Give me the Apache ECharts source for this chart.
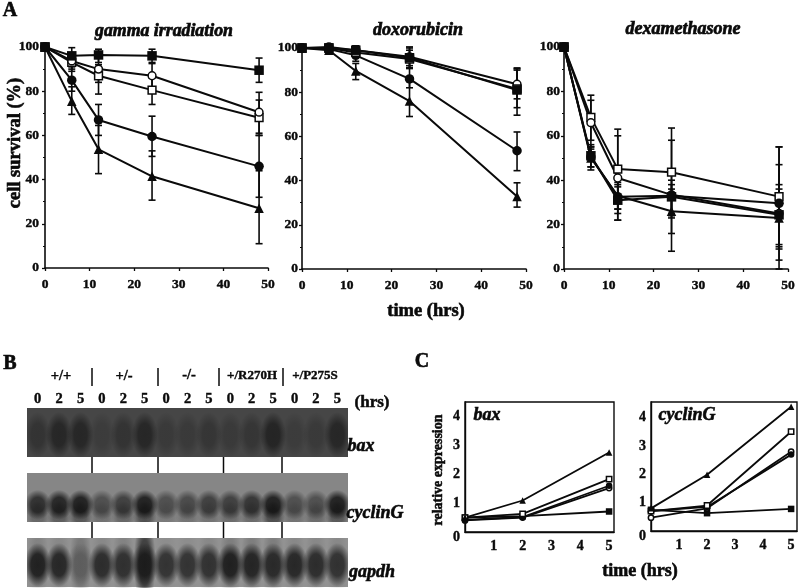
<!DOCTYPE html>
<html><head><meta charset="utf-8">
<script src="https://cdn.jsdelivr.net/npm/echarts@6/dist/echarts.min.js"></script>
<style>html,body{margin:0;padding:0;background:#fff}#c{width:800px;height:588px;filter:blur(0.35px)}</style>
</head><body><div id="c"></div>
<script>
// ---------- Panel A data (hours, % survival, error-bar highs and lows)
const hoursA = [0, 6, 12, 24, 48];
const gammaFilledSquare = [100, 96, 96.4, 96, 89.5];
const gammaFilledSquareHi = [100, 99.7, 99, 99, 95];
const gammaFilledSquareLo = [100, 92, 93, 92.5, 84];
const gammaOpenCircle = [100, 93.7, 90, 87, 70.5];
const gammaOpenCircleHi = [100, 97, 95, 93, 79.5];
const gammaOpenCircleLo = [100, 90, 84, 81, 61];
const gammaOpenSquare = [100, 93, 87, 80.5, 68];
const gammaOpenSquareHi = [100, 96, 92, 86, 76];
const gammaOpenSquareLo = [100, 89, 78.7, 74, 60];
const gammaFilledCircle = [100, 85, 67, 59.5, 46];
const gammaFilledCircleHi = [100, 91, 74, 68.7, 60];
const gammaFilledCircleLo = [100, 80, 60, 50.5, 32];
const gammaTriangle = [100, 75.5, 53.7, 41.5, 27];
const gammaTriangleHi = [100, 82, 64.5, 53, 44];
const gammaTriangleLo = [100, 69.5, 42.7, 30.7, 11];

const doxoFilledSquare = [100, 100, 99, 95.6, 81];
const doxoFilledSquareHi = [100, 101, 101, 100, 91];
const doxoFilledSquareLo = [100, 99, 97, 90.7, 69.6];
const doxoOpenCircle = [100, 100.5, 99, 96, 83.6];
const doxoOpenCircleHi = [100, 101, 101, 100.5, 90.6];
const doxoOpenCircleLo = [100, 99, 96, 91, 77];
const doxoOpenSquare = [100, 100, 98, 95, 81.5];
const doxoOpenSquareHi = [100, 101, 100, 99, 90];
const doxoOpenSquareLo = [100, 99, 96, 91, 73];
const doxoFilledCircle = [100, 99.5, 96.7, 86, 53.5];
const doxoFilledCircleHi = [100, 100.5, 98, 92, 62];
const doxoFilledCircleLo = [100, 98.5, 94, 82, 44.5];
const doxoTriangle = [100, 99, 89.6, 76, 32.8];
const doxoTriangleHi = [100, 100, 93, 85, 39];
const doxoTriangleLo = [100, 98, 85.7, 69, 28];

const dexaOpenSquare = [100, 68.3, 45, 43.6, 32.6];
const dexaOpenSquareHi = [100, 78.3, 63, 63.5, 55];
const dexaOpenSquareLo = [100, 58, 27, 23, 10];
const dexaOpenCircle = [100, 65.9, 41, 33.4, 25];
const dexaOpenCircleHi = [100, 76, 60, 58, 47];
const dexaOpenCircleLo = [100, 55, 22, 8, 9];
const dexaFilledCircle = [100, 50.5, 32.6, 33, 29.6];
const dexaFilledCircleHi = [100, 56, 38, 40, 55];
const dexaFilledCircleLo = [100, 46, 27, 25, 4];
const dexaFilledSquare = [100, 51, 31, 32.5, 24.4];
const dexaFilledSquareHi = [100, 55, 37, 38, 38];
const dexaFilledSquareLo = [100, 44.6, 25, 24, 11];
const dexaTriangle = [100, 50, 33, 26, 23];
const dexaTriangleHi = [100, 54, 39, 36, 36];
const dexaTriangleLo = [100, 46, 22, 16, 0];

// ---------- Panel C data
const hoursC = [0, 2, 5];
const baxTriangle = [0.5, 1.09, 2.75];
const baxOpenSquare = [0.5, 0.63, 1.83];
const baxOpenCircle = [0.4, 0.5, 1.52];
const baxFilledCircle = [0.42, 0.52, 1.6];
const baxFilledSquare = [0.5, 0.55, 0.71];
const cycTriangle = [0.8, 1.99, 4.39];
const cycOpenSquare = [0.7, 0.9, 3.51];
const cycOpenCircle = [0.47, 0.8, 2.8];
const cycFilledCircle = [0.7, 0.85, 2.7];
const cycFilledSquare = [0.75, 0.63, 0.78];

// ---------- Panel B data (band darkness per lane, read by eye)
const laneLabels = ['0','2','5','0','2','5','0','2','5','0','2','5','0','2','5'];
const baxBands = [0.45,0.75,0.75,0.25,0.45,0.75,0.3,0.3,0.4,0.3,0.4,0.8,0.25,0.3,0.75];
const cyclinBands = [0.85,0.95,1,0.55,0.7,1,0.55,0.6,0.7,0.7,0.8,1,0.55,0.55,1];
const cyclinSmear = [0.3,0.4,0.45,0.2,0.3,0.5,0.12,0.18,0.18,0.25,0.25,0.55,0.18,0.25,0.45];
const gapdhBands = [1,0.95,0.3,0.9,0.85,0.8,0.85,0.85,0.85,1,0.95,0.9,0.95,0.9,0.85];
const gapdhSmear = [0.15,0.1,0.25,0.1,0.15,0.8,0.05,0.05,0.1,0.2,0.2,0.2,0.1,0.1,0.1];

const FONT = '"Liberation Serif", serif';
const black = '#0a0a0a';
const zip = (xs, ys) => xs.map((x, i) => [x, ys[i]]);

function lineSeries(g, xs, ys, kind, size, lw) {
  const open = kind.startsWith('open');
  const sym = kind.endsWith('Circle') ? 'circle' : kind.endsWith('Square') ? 'rect' : 'triangle';
  return {
    type: 'line', xAxisIndex: g, yAxisIndex: g, data: zip(xs, ys),
    symbol: sym, symbolSize: size * (open ? 0.82 : 1), showSymbol: true, showAllSymbol: true,
    lineStyle: { color: black, width: lw }, clip: false, z: 3,
    itemStyle: open ? { color: '#fff', borderColor: black, borderWidth: 1.5, opacity: 1 } : { color: black, opacity: 1 }
  };
}
function errorSeries(g, xs, hi, lo) {
  return {
    type: 'custom', xAxisIndex: g, yAxisIndex: g, clip: false, z: 2,
    data: xs.map((x, i) => [x, hi[i], lo[i]]).slice(1),
    encode: { x: 0, y: [1, 2] },
    renderItem: (p, api) => {
      const a = api.coord([api.value(0), api.value(1)]);
      const b = api.coord([api.value(0), api.value(2)]);
      const st = { stroke: black, lineWidth: 1.6, fill: 'none' };
      const ln = (x1, y1, x2, y2) => ({ type: 'line', shape: { x1, y1, x2, y2 }, style: st });
      return { type: 'group', children: [ln(a[0], a[1], b[0], b[1]), ln(a[0]-3.5, a[1], a[0]+3.5, a[1]), ln(b[0]-3.5, b[1], b[0]+3.5, b[1])] };
    }
  };
}
function bandSeries(g, vals, pos, w, h, k) {
  return {
    type: 'scatter', xAxisIndex: g, yAxisIndex: g, clip: true, z: 2, symbol: 'rect',
    data: vals.map((v, i) => {
      const a = Math.min(1, v * k);
      return {
        value: [i, pos], symbolSize: [w, h],
        itemStyle: { color: { type: 'radial', x: 0.5, y: 0.5, r: 0.5, colorStops: [
          { offset: 0, color: `rgba(8,8,8,${a})` },
          { offset: 0.5, color: `rgba(8,8,8,${a * 0.95})` },
          { offset: 1, color: 'rgba(8,8,8,0)' }
        ] } }
      };
    })
  };
}

const grids = [
  { left: 45, top: 47, width: 223, height: 221 },
  { left: 302, top: 48, width: 224, height: 221 },
  { left: 564, top: 47, width: 224, height: 222 },
  { left: 465, top: 402, width: 149, height: 130, show: true, borderColor: black, borderWidth: 1.4 },
  { left: 651, top: 402, width: 146, height: 129, show: true, borderColor: black, borderWidth: 1.4 },
  { left: 27, top: 408, width: 321, height: 49, show: true, borderWidth: 0, backgroundColor: '#464646' },
  { left: 27, top: 473, width: 321, height: 49, show: true, borderWidth: 0, backgroundColor: '#868686' },
  { left: 27, top: 538, width: 321, height: 49, show: true, borderWidth: 0, backgroundColor: '#929292' }
];
const lbl = (size, margin, extra) => Object.assign({ fontFamily: FONT, fontWeight: 'bold', fontSize: size, color: black, margin, textBorderColor: black, textBorderWidth: 0.4 }, extra || {});
const xA = i => ({
  gridIndex: i, type: 'value', min: 0, max: 50, interval: 10, splitLine: { show: false },
  axisLine: { lineStyle: { color: black, width: 1.6 } }, axisTick: { length: 3, lineStyle: { color: black, width: 1.3 } },
  axisLabel: lbl(13.5, 10)
});
const yA = (i, m) => ({
  gridIndex: i, type: 'value', min: 0, max: 100, interval: 20, splitLine: { show: false },
  axisLine: { lineStyle: { color: black, width: 1.6 } }, axisTick: { length: 3, lineStyle: { color: black, width: 1.3 } },
  minorTick: { show: true, splitNumber: 2, length: 2, lineStyle: { color: black } }, minorSplitLine: { show: false },
  axisLabel: lbl(13.5, m)
});
const xC = (i, max) => ({
  gridIndex: i, type: 'value', min: 0, max, interval: 1, splitLine: { show: false },
  axisLine: { lineStyle: { color: black, width: 1.4 } }, axisTick: { show: false },
  axisLabel: lbl(14, 7, { formatter: v => (Number.isInteger(v) && v > 0 ? String(v) : ''), showMaxLabel: false })
});
const yC = (i, max) => ({
  gridIndex: i, type: 'value', min: 0, max, interval: 1, splitLine: { show: false },
  axisLine: { lineStyle: { color: black, width: 1.4 } }, axisTick: { show: false },
  axisLabel: lbl(14, 5, { formatter: v => (v === 0 ? '{z|0}' : (Number.isInteger(v) ? String(v) : '')), showMaxLabel: false,
    rich: { z: { fontFamily: FONT, fontWeight: 'bold', fontSize: 14, color: black, padding: [10, 0, 0, 0] } } })
});
const xB = (i, show) => ({
  gridIndex: i, type: 'category', data: laneLabels, position: 'top', axisLine: { show: false }, axisTick: { show: false },
  axisLabel: Object.assign(lbl(14.5, 1), { show, interval: 0 })
});
const yB = i => ({ gridIndex: i, type: 'value', min: 0, max: 1, show: false });

const series = [];
const pA = (g, list, size) => {
  list.forEach(s => series.push(errorSeries(g, hoursA, s[2], s[3])));
  list.forEach(s => series.push(lineSeries(g, hoursA, s[1], s[0], size, 2)));
};
pA(0, [
  ['triangle', gammaTriangle, gammaTriangleHi, gammaTriangleLo],
  ['filledCircle', gammaFilledCircle, gammaFilledCircleHi, gammaFilledCircleLo],
  ['openSquare', gammaOpenSquare, gammaOpenSquareHi, gammaOpenSquareLo],
  ['openCircle', gammaOpenCircle, gammaOpenCircleHi, gammaOpenCircleLo],
  ['filledSquare', gammaFilledSquare, gammaFilledSquareHi, gammaFilledSquareLo]
], 9.5);
pA(1, [
  ['triangle', doxoTriangle, doxoTriangleHi, doxoTriangleLo],
  ['filledCircle', doxoFilledCircle, doxoFilledCircleHi, doxoFilledCircleLo],
  ['openCircle', doxoOpenCircle, doxoOpenCircleHi, doxoOpenCircleLo],
  ['openSquare', doxoOpenSquare, doxoOpenSquareHi, doxoOpenSquareLo],
  ['filledSquare', doxoFilledSquare, doxoFilledSquareHi, doxoFilledSquareLo]
], 9.5);
pA(2, [
  ['openSquare', dexaOpenSquare, dexaOpenSquareHi, dexaOpenSquareLo],
  ['openCircle', dexaOpenCircle, dexaOpenCircleHi, dexaOpenCircleLo],
  ['filledCircle', dexaFilledCircle, dexaFilledCircleHi, dexaFilledCircleLo],
  ['triangle', dexaTriangle, dexaTriangleHi, dexaTriangleLo],
  ['filledSquare', dexaFilledSquare, dexaFilledSquareHi, dexaFilledSquareLo]
], 9.5);
const pC = (g, list) => list.forEach(s => series.push(lineSeries(g, hoursC, s[1], s[0], 6.5, 1.8)));
pC(3, [['filledSquare', baxFilledSquare], ['openCircle', baxOpenCircle], ['filledCircle', baxFilledCircle], ['openSquare', baxOpenSquare], ['triangle', baxTriangle]]);
pC(4, [['filledSquare', cycFilledSquare], ['openCircle', cycOpenCircle], ['filledCircle', cycFilledCircle], ['openSquare', cycOpenSquare], ['triangle', cycTriangle]]);

series.push(bandSeries(5, baxBands, 0.45, 26, 46, 0.85));
series.push(bandSeries(6, cyclinSmear, 0.12, 24, 30, 1));
series.push(bandSeries(6, cyclinBands, 0.35, 27, 30, 1));
series.push(bandSeries(7, gapdhSmear, 0.5, 22, 90, 0.95));
series.push(bandSeries(7, gapdhBands, 0.45, 27, 44, 1));

const txt = (text, x, y, size, opt) => Object.assign({
  type: 'text', silent: true, x, y, z: 20,
  style: { text, font: `${(opt && opt.italic) ? 'italic ' : ''}bold ${size}px "Liberation Serif"`, fill: black, textAlign: 'center', textVerticalAlign: 'middle', stroke: black, lineWidth: (opt && opt.stroke) || 0.35 }
}, (opt && opt.rot) ? { rotation: opt.rot } : {});
const sep = (x, y1, y2) => ({ type: 'line', silent: true, z: 20, shape: { x1: x, y1, x2: x, y2 }, style: { stroke: black, lineWidth: 1.5 } });
const mask = (x, y, width, height) => ({ type: 'rect', silent: true, z: 15, shape: { x, y, width, height }, style: { fill: '#fff' } });

const graphicEls = [
  mask(20, 457, 335, 16), mask(20, 522, 335, 16), mask(15, 408, 12, 180), mask(348, 408, 12, 180),
  txt('A', 10, 11, 20, { stroke: 0.6 }), txt('B', 10, 364, 20, { stroke: 0.6 }), txt('C', 422, 362, 20, { stroke: 0.6 }),
  txt('gamma irradiation', 164, 31, 17.8, { italic: true, stroke: 0.7 }),
  txt('doxorubicin', 418, 30, 18, { italic: true, stroke: 0.7 }),
  txt('dexamethasone', 683, 29, 18, { italic: true, stroke: 0.7 }),
  txt('time (hrs)', 426, 311, 18.5, { stroke: 0.6 }),
  txt('cell survival (%)', 15, 143, 18.5, { rot: Math.PI / 2, stroke: 0.6 }),
  txt('relative expression', 438, 470, 14, { rot: Math.PI / 2, stroke: 0.5 }),
  txt('time (hrs)', 640, 571, 18, { stroke: 0.6 }),
  txt('bax', 487, 415, 18, { italic: true, stroke: 0.6 }),
  txt('cyclinG', 687, 415, 18, { italic: true, stroke: 0.6 }),
  txt('+/+', 61, 376, 14.5, { stroke: 0.4 }), txt('+/-', 124, 376, 14.5, { stroke: 0.4 }), txt('-/-', 189, 375, 14.5, { stroke: 0.4 }),
  txt('+/R270H', 252, 376, 13, { stroke: 0.4 }), txt('+/P275S', 315, 376, 13, { stroke: 0.4 }),
  txt('(hrs)', 372, 403, 17, { stroke: 0.5 }),
  txt('bax', 361, 446, 18, { italic: true, stroke: 0.6 }),
  txt('cyclinG', 375, 513, 18, { italic: true, stroke: 0.6 }),
  txt('gapdh', 372, 572, 18, { italic: true, stroke: 0.6 }),
  sep(92, 368, 386), sep(158, 368, 386), sep(219, 368, 386), sep(283, 368, 386),
  sep(92, 457, 473), sep(158, 457, 473), sep(223.5, 457, 473), sep(282, 457, 473),
  sep(92, 522, 538), sep(158, 522, 538), sep(223.5, 522, 538), sep(282, 522, 538)
];

const chart = echarts.init(document.getElementById('c'), null, { width: 800, height: 588 });
chart.setOption({
  animation: false, backgroundColor: '#fff',
  grid: grids,
  xAxis: [xA(0), xA(1), xA(2), xC(3, 5.17), xC(4, 5.21), xB(5, true), xB(6, false), xB(7, false)],
  yAxis: [yA(0, 6), yA(1, 4), yA(2, 4), yC(3, 4.5), yC(4, 4.56), yB(5), yB(6), yB(7)],
  series, graphic: graphicEls
});
</script></body></html>
